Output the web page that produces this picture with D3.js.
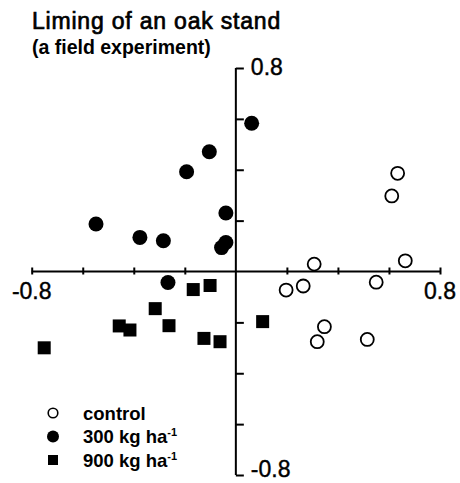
<!DOCTYPE html>
<html>
<head>
<meta charset="utf-8">
<script src="https://cdn.jsdelivr.net/npm/d3@7"></script>
<style>
  body { margin: 0; background: #fff; }
  svg { display: block; font-family: "Liberation Sans", Arial, sans-serif; }
</style>
</head>
<body>
<div id="viz"></div>
<script>
// control plots
var controlX = [0.634, 0.611, 0.307, 0.664, 0.197, 0.264, 0.550, 0.347, 0.319, 0.515];
var controlY = [0.386, 0.297, 0.029, 0.042, -0.073, -0.057, -0.042, -0.217, -0.276, -0.267];
// 300 kg lime per ha
var lime300X = [0.062, -0.104, -0.193, -0.039, -0.548, -0.376, -0.284, -0.056, -0.039, -0.266];
var lime300Y = [0.583, 0.471, 0.392, 0.230, 0.187, 0.134, 0.121, 0.094, 0.114, -0.043];
// 900 kg lime per ha
var lime900X = [-0.751, -0.457, -0.415, -0.316, -0.262, -0.167, -0.101, -0.125, -0.062, 0.105];
var lime900Y = [-0.300, -0.214, -0.230, -0.146, -0.213, -0.071, -0.055, -0.263, -0.276, -0.197];

var tickValues = [-0.8, -0.6, -0.4, -0.2, 0, 0.2, 0.4, 0.6, 0.8];
var endLabels = ['-0.8', '0.8'];
var legendLabels = ['control', '300 kg ha', '900 kg ha'];

var width = 460,
    height = 483;

var xScale = d3.scaleLinear()
    .domain([-0.8, 0.8])
    .range([31.7, 440]);

var yScale = d3.scaleLinear()
    .domain([-0.8, 0.8])
    .range([475, 68]);

var svg = d3.select('#viz').append('svg')
    .attr('width', width)
    .attr('height', height)
    .style('background', '#fff');

// title
svg.append('text')
    .attr('x', 32)
    .attr('y', 28.5)
    .style('font-size', '23px')
    .style('letter-spacing', '0.8px')
    .style('stroke', '#000')
    .style('stroke-width', 0.7)
    .text('Liming of an oak stand');

svg.append('text')
    .attr('x', 32)
    .attr('y', 54)
    .style('font-size', '19.5px')
    .style('font-weight', 'bold')
    .text('(a field experiment)');

// x axis through y = 0
var xAxis = d3.axisBottom(xScale)
    .tickValues(tickValues.filter(function(d) { return d !== 0; }))
    .tickSize(3)
    .tickFormat('');

var gx = svg.append('g')
    .attr('transform', 'translate(0,' + yScale(0) + ')')
    .call(xAxis);
gx.select('.domain').remove();
gx.append('line')
    .attr('x1', xScale(-0.8)).attr('x2', xScale(0.8))
    .attr('stroke', '#000').attr('stroke-width', 2);
gx.selectAll('.tick line')
    .attr('y1', -4)
    .attr('stroke-width', 2);

// y axis through x = 0
var yAxis = d3.axisRight(yScale)
    .tickValues(tickValues.filter(function(d) { return d !== 0; }))
    .tickSize(8)
    .tickFormat('');

var gy = svg.append('g')
    .attr('transform', 'translate(' + xScale(0) + ',0)')
    .call(yAxis);
gy.select('.domain').remove();
gy.append('line')
    .attr('y1', yScale(0.8)).attr('y2', yScale(-0.8))
    .attr('stroke', '#000').attr('stroke-width', 2);
gy.selectAll('.tick line').attr('stroke-width', 2);

// end labels
var labelStyle = function(sel) {
    sel.style('font-size', '23px')
        .style('stroke', '#000')
        .style('stroke-width', 0.4);
};

svg.selectAll('.xlab').data(endLabels)
    .enter().append('text')
    .attr('class', 'xlab')
    .attr('x', function(d) { return xScale(+d); })
    .attr('y', yScale(0) + 27)
    .attr('text-anchor', 'middle')
    .call(labelStyle)
    .text(function(d) { return d; });

// bottom label kept just inside the picture
svg.selectAll('.ylab').data(endLabels)
    .enter().append('text')
    .attr('class', 'ylab')
    .attr('x', xScale(0) + 15)
    .attr('y', function(d) { return Math.min(yScale(+d) + 7, height - 6); })
    .call(labelStyle)
    .text(function(d) { return d; });

// points
var zip = function(xs, ys) {
    return xs.map(function(x, i) { return [x, ys[i]]; });
};

svg.selectAll('.ctrl').data(zip(controlX, controlY))
    .enter().append('circle')
    .attr('class', 'ctrl')
    .attr('cx', function(d) { return xScale(d[0]); })
    .attr('cy', function(d) { return yScale(d[1]); })
    .attr('r', 6.5)
    .style('fill', '#fff')
    .style('stroke', '#000')
    .style('stroke-width', 1.8);

svg.selectAll('.l300').data(zip(lime300X, lime300Y))
    .enter().append('circle')
    .attr('class', 'l300')
    .attr('cx', function(d) { return xScale(d[0]); })
    .attr('cy', function(d) { return yScale(d[1]); })
    .attr('r', 7.5)
    .style('fill', '#000');

var sq = 13;
svg.selectAll('.l900').data(zip(lime900X, lime900Y))
    .enter().append('rect')
    .attr('class', 'l900')
    .attr('x', function(d) { return xScale(d[0]) - sq / 2; })
    .attr('y', function(d) { return yScale(d[1]) - sq / 2; })
    .attr('width', sq)
    .attr('height', sq)
    .style('fill', '#000');

// legend
var legend = svg.selectAll('.legend').data(legendLabels)
    .enter().append('g')
    .attr('class', 'legend')
    .attr('transform', function(d, i) {
        return 'translate(53,' + (413 + i * 23.5) + ')';
    });

legend.each(function(d, i) {
    var g = d3.select(this);
    if (i === 0) {
        g.append('circle').attr('r', 4.8)
            .style('fill', '#fff').style('stroke', '#000').style('stroke-width', 1.6);
    } else if (i === 1) {
        g.append('circle').attr('r', 6).style('fill', '#000');
    } else {
        g.append('rect').attr('x', -5).attr('y', -5)
            .attr('width', 10).attr('height', 10).style('fill', '#000');
    }
    var t = g.append('text')
        .attr('x', 30)
        .attr('y', 6.5)
        .style('font-size', '18.5px')
        .style('font-weight', 'bold')
        .text(d);
    if (i > 0) {
        t.append('tspan')
            .attr('dy', -7)
            .style('font-size', '11px')
            .text('-1');
    }
});
</script>
</body>
</html>
